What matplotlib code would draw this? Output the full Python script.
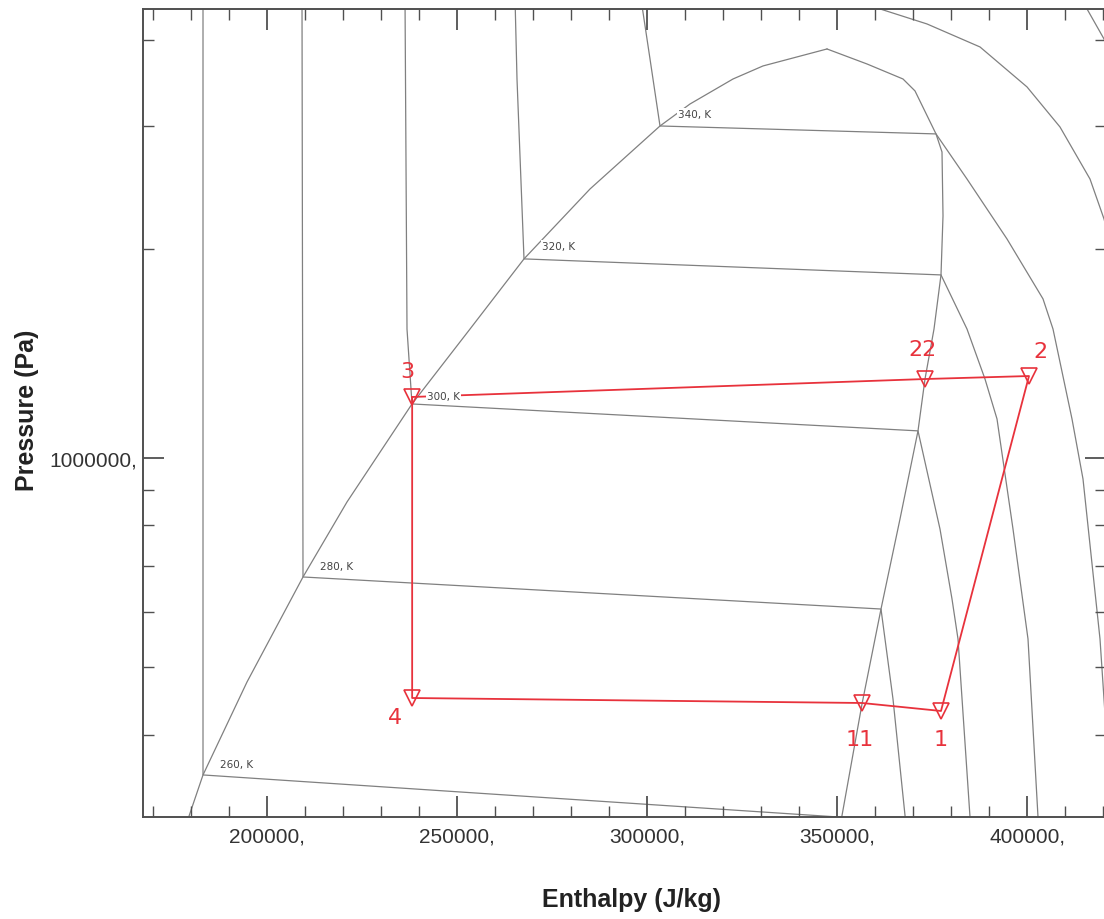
import matplotlib
matplotlib.use("Agg")
import matplotlib.pyplot as plt
from matplotlib.ticker import FixedLocator, MultipleLocator, FuncFormatter, NullFormatter

# ---------------- data (enthalpy J/kg, pressure Pa) ----------------
sat_liq_h = [178684, 183158, 194737, 209474, 221053, 238158, 253421, 267632,
             285000, 303421, 311316, 322632, 330526, 347368]
sat_liq_p = [2.964e5, 3.499e5, 4.761e5, 6.742e5, 8.644e5, 1.196e6, 1.533e6, 1.934e6,
             2.438e6, 3.004e6, 3.231e6, 3.510e6, 3.665e6, 3.877e6]

sat_vap_h = [347368, 357895, 367368, 370526, 376053, 377632, 377895, 377368,
             375526, 373158, 371316, 366579, 361579, 356579, 351053]
sat_vap_p = [3.877e6, 3.689e6, 3.510e6, 3.374e6, 2.926e6, 2.756e6, 2.230e6, 1.834e6,
             1.533e6, 1.299e6, 1.094e6, 8.170e5, 6.063e5, 4.426e5, 3.003e5]

iso_260_h = [183158, 183158, 366579]
iso_260_p = [4.6e6, 3.499e5, 3.003e5]

iso_280_h = [209211, 209474, 361579, 364737, 368158]
iso_280_p = [4.6e6, 6.742e5, 6.063e5, 4.499e5, 2.964e5]

iso_300_h = [236316, 236842, 238158, 371316, 377105, 380263, 381842, 385000, 385130]
iso_300_p = [4.6e6, 1.533e6, 1.196e6, 1.094e6, 7.903e5, 6.268e5, 5.490e5, 3.044e5, 2.964e5]

iso_320_h = [265263, 265789, 267632, 377368, 384211, 388947, 392105, 396316,
             400263, 402895, 403000]
iso_320_p = [4.6e6, 3.510e6, 1.934e6, 1.834e6, 1.533e6, 1.299e6, 1.138e6, 7.903e5,
             5.490e5, 3.044e5, 2.960e5]

iso_340_h = [298421, 300790, 303421, 376053, 384211, 394737, 404211, 406842,
             411842, 414737, 419211, 421316]
iso_340_p = [4.575e6, 3.751e6, 3.004e6, 2.926e6, 2.520e6, 2.066e6, 1.694e6, 1.533e6,
             1.138e6, 9.328e5, 5.490e5, 3.689e5]

iso_360_h = [354737, 361316, 373684, 387632, 400000, 408684, 416579, 420263, 422368]
iso_360_p = [4.545e6, 4.427e6, 4.212e6, 3.903e6, 3.419e6, 2.994e6, 2.520e6, 2.208e6, 1.998e6]

iso_380_h = [413947, 415789, 420263, 422368]
iso_380_p = [4.575e6, 4.427e6, 4.008e6, 3.776e6]

iso_labels = ["260, K", "280, K", "300, K", "320, K", "340, K"]
iso_label_h = [187632, 213947, 242105, 272368, 308158]
iso_label_p = [3.628e5, 6.992e5, 1.228e6, 2.018e6, 3.126e6]

cycle_labels = ["3", "22", "2", "1", "11", "4"]
cycle_h = [238200, 373158, 400526, 377368, 356579, 238200]
cycle_p = [1.224e6, 1.299e6, 1.312e6, 4.325e5, 4.441e5, 4.515e5]

x_major = [200000, 250000, 300000, 350000, 400000]
y_major = [1e6]
y_minor = [4e5, 5e5, 6e5, 7e5, 8e5, 9e5, 2e6, 3e6, 4e6]

# ---------------- figure ----------------
W, H = 1104, 920
fig = plt.figure(figsize=(W / 100, H / 100), dpi=100)
ax = fig.add_axes([143 / W, 1 - 818 / H, 963 / W, 808 / H])
ax.set_yscale("log")
ax.set_xlim(167368, 420789)
ax.set_ylim(3.044e5, 4.426e6)

grey = "#808080"
glw = 0.9
for hh, pp in [(sat_liq_h, sat_liq_p), (sat_vap_h, sat_vap_p),
               (iso_260_h, iso_260_p), (iso_280_h, iso_280_p),
               (iso_300_h, iso_300_p), (iso_320_h, iso_320_p),
               (iso_340_h, iso_340_p), (iso_360_h, iso_360_p),
               (iso_380_h, iso_380_p)]:
    ax.plot(hh, pp, color=grey, lw=glw, zorder=1, solid_joinstyle="miter")

red = "#e8323c"
ax.plot(cycle_h + cycle_h[:1], cycle_p + cycle_p[:1], color=red, lw=1.3, zorder=3)
ax.plot(cycle_h, cycle_p, linestyle="none", marker="v", markersize=11,
        fillstyle="none", markeredgecolor=red, markeredgewidth=1.2, zorder=4)

for txt, hh, pp in zip(iso_labels, iso_label_h, iso_label_p):
    ax.text(hh, pp, txt, fontsize=7.5, color="#444444", ha="left", va="center",
            family="DejaVu Sans", zorder=5,
            bbox=dict(facecolor="white", edgecolor="none", pad=1.0))

offsets = [(-5, 26), (-3, 30), (11, 25), (0, -28), (-2, -36), (-17, -19)]
for txt, hh, pp, off in zip(cycle_labels, cycle_h, cycle_p, offsets):
    ax.annotate(txt, (hh, pp), xytext=off, textcoords="offset pixels",
                ha="center", va="center", color=red, fontsize=16,
                family="DejaVu Sans", zorder=6)

# ---------------- axes styling ----------------
fmt = FuncFormatter(lambda v, p: f"{int(round(v))},")
ax.xaxis.set_major_locator(FixedLocator(x_major))
ax.xaxis.set_minor_locator(MultipleLocator(10000))
ax.xaxis.set_major_formatter(fmt)
ax.xaxis.set_minor_formatter(NullFormatter())
ax.yaxis.set_major_locator(FixedLocator(y_major))
ax.yaxis.set_minor_locator(FixedLocator(y_minor))
ax.yaxis.set_major_formatter(fmt)
ax.yaxis.set_minor_formatter(NullFormatter())

spine_c = "#505050"
for s in ax.spines.values():
    s.set_color(spine_c)
    s.set_linewidth(1.4)

ax.tick_params(which="both", direction="in", top=True, right=True,
               color=spine_c, labelcolor="#333333", labelsize=15)
ax.tick_params(which="major", length=15, width=1.3)
ax.tick_params(which="minor", length=8, width=1.0)
ax.tick_params(axis="x", which="major", pad=6.5)
ax.tick_params(axis="y", which="major", pad=4.5)
for lab in ax.get_xticklabels() + ax.get_yticklabels():
    lab.set_family("Liberation Sans")

ax.set_xlabel("Enthalpy (J/kg)", fontsize=18, fontweight="bold", color="#222222",
              family="Liberation Sans", va="center")
ax.xaxis.set_label_coords(0.507, -0.1015)
ax.set_ylabel("Pressure (Pa)", fontsize=18, fontweight="bold", color="#222222",
              family="Liberation Sans", va="center")
ax.yaxis.set_label_coords(-0.1205, 0.505)

fig.savefig("out.png", dpi=100, facecolor="white")
